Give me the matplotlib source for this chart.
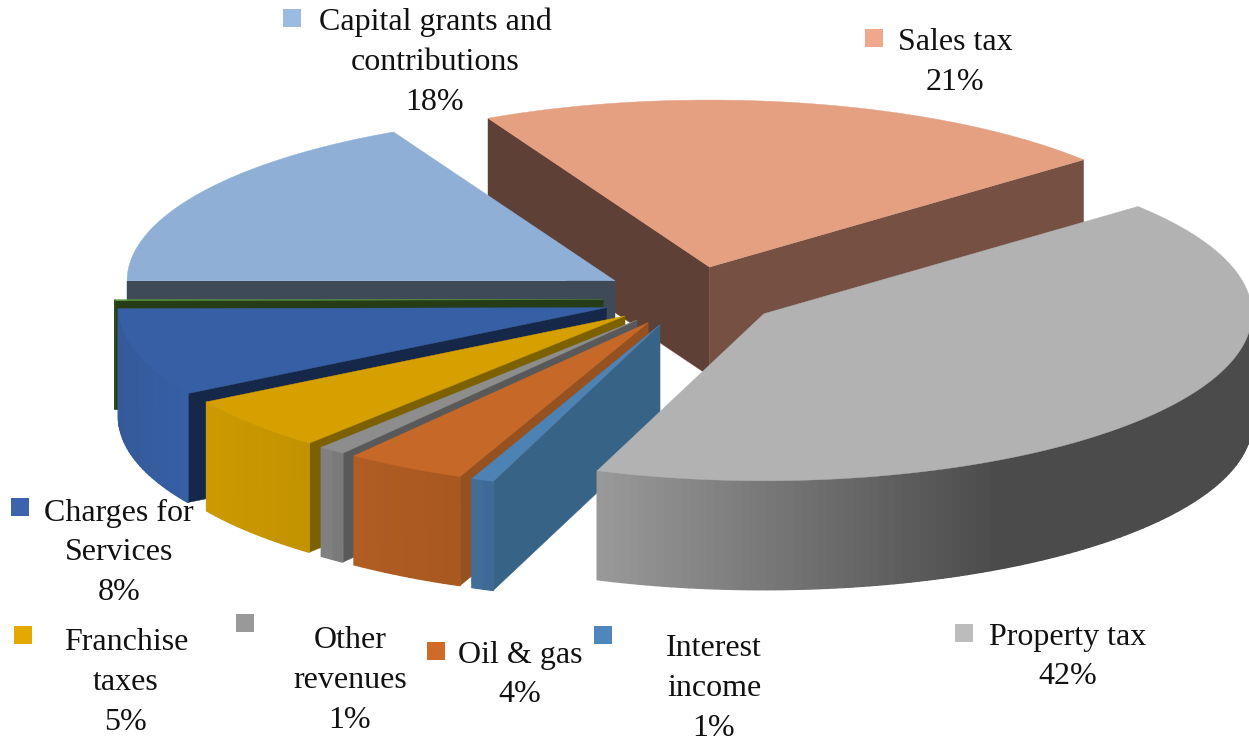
import numpy as np
from matplotlib import pyplot as plt
from matplotlib.patches import Polygon, Rectangle

# clockwise from the start angle, the last ones wrap round to the left side
NAMES = ['Sales tax', 'Property tax', 'Interest income', 'Oil & gas', 'Other revenues',
         'Franchise taxes', 'Charges for Services', '', 'Capital grants and contributions']
VALUES = [21.4, 41.65, 0.75, 4.0, 0.9, 5.2, 8.5, 0.1, 17.5]
PERCENT_LABELS = ['21%', '42%', '1%', '4%', '1%', '5%', '8%', '', '18%']

TOP_COLORS = ['#e5a082', '#b2b2b2', '#4d82b5', '#c66828', '#8d8d8d', '#d6a000', '#365fa5', '#5a9a3c', '#8fafd7']
KEY_COLORS = ['#f0a88c', '#bcbcbc', '#4f87bd', '#cf6a28', '#999999', '#e3a900', '#3b64ad', '#5a9a3c', '#9bbbe0']
START_WALL = ['#5f4036', '#000000', '#376386', '#955120', '#595959', '#7d6100', '#16284a', '#263c17', '#3e4a57']
END_WALL = ['#765143', '#000000', '#000000', '#000000', '#000000', '#000000', '#000000', '#000000', '#000000']
# rim shade at left / right of the pie, only the property slice really varies
RIM_LEFT = ['#765143', '#9a9a9a', '#436f9c', '#b25d24', '#858585', '#cc9a00', '#345a9a', '#2c4d1c', '#3e4a57']
RIM_RIGHT = ['#765143', '#4b4b4b', '#3f6a96', '#a85820', '#7a7a7a', '#c39200', '#365fa5', '#2c4d1c', '#3e4a57']
# small nudges on top of the explode, the original has some perspective
APEX_SHIFT = [(0, 0), (0, 0), (0, 0), (0, 0), (0, 0), (0, 0), (-1, 3), (-1, 3), (-2, 0)]

# label text lines, with centre x and first-line y, and the key square beside it
LABEL_LINES = {
    'Sales tax': ['Sales tax'],
    'Property tax': ['Property tax'],
    'Interest income': ['Interest', 'income'],
    'Oil & gas': ['Oil & gas'],
    'Other revenues': ['Other', 'revenues'],
    'Franchise taxes': ['Franchise', 'taxes'],
    'Charges for Services': ['Charges for', 'Services'],
    'Capital grants and contributions': ['Capital grants and', 'contributions'],
}
LABEL_POS = {
    'Sales tax': (955, 42), 'Property tax': (1068, 637), 'Interest income': (714, 649),
    'Oil & gas': (520, 655), 'Other revenues': (350, 641), 'Franchise taxes': (126, 643),
    'Charges for Services': (119, 513), 'Capital grants and contributions': (435, 22),
}
KEY_POS = {
    'Sales tax': (874, 38), 'Property tax': (964, 633), 'Interest income': (603, 635),
    'Oil & gas': (436, 651), 'Other revenues': (245, 623), 'Franchise taxes': (23, 635),
    'Charges for Services': (20, 507), 'Capital grants and contributions': (292, 18),
}

CENTER = (692.0, 296.5)
RX, RY = 488.0, 167.0
DEPTH = 109.0
EXPLODE = 0.18
START_ANGLE = 117.0
LINE_STEP = 40
FONT = ['Liberation Serif', 'DejaVu Serif']


def hex_rgb(color):
    return np.array([int(color[i:i + 2], 16) / 255 for i in (1, 3, 5)])


def slice_angles():
    edges = START_ANGLE - np.cumsum([0] + VALUES) * 360 / sum(VALUES)
    return edges[:-1], edges[1:]


def wall(ax, apex, angle, color, z):
    x, y = apex[0] + RX * np.cos(angle), apex[1] - RY * np.sin(angle)
    pts = [apex, (x, y), (x, y + DEPTH), (apex[0], apex[1] + DEPTH)]
    ax.add_patch(Polygon(pts, fc=color, ec=color, lw=0.3, zorder=z))


def rim(ax, apex, a1, a2, left, right, z):
    angles = np.linspace(a1, a2, max(3, int(abs(a2 - a1) * 180 / np.pi)))
    xs = apex[0] + RX * np.cos(angles)
    ys = apex[1] - RY * np.sin(angles)
    for i in range(len(angles) - 1):
        if np.sin((angles[i] + angles[i + 1]) / 2) > 0:
            continue
        # gradient runs over the page width, flat beyond x = 1000
        t = np.clip((xs[i] - 597) / 403, 0, 1) if left == RIM_LEFT[1] else (xs[i] - xs.min()) / max(1, np.ptp(xs))
        color = (1 - t) * hex_rgb(left) + t * hex_rgb(right)
        pts = [(xs[i], ys[i]), (xs[i + 1], ys[i + 1]),
               (xs[i + 1], ys[i + 1] + DEPTH), (xs[i], ys[i] + DEPTH)]
        ax.add_patch(Polygon(pts, fc=color, ec=color, lw=1.0, zorder=z))


def draw_slice(ax, i, a1, a2, z):
    mid = (a1 + a2) / 2
    apex = (CENTER[0] + EXPLODE * RX * np.cos(mid) + APEX_SHIFT[i][0],
            CENTER[1] - EXPLODE * RY * np.sin(mid) + APEX_SHIFT[i][1])
    # walls facing the viewer only
    if np.cos(a1) < 0:
        wall(ax, apex, a1, START_WALL[i], z)
    if np.cos(a2) > 0:
        wall(ax, apex, a2, END_WALL[i], z)
    rim(ax, apex, a1, a2, RIM_LEFT[i], RIM_RIGHT[i], z + 0.1)
    angles = np.linspace(a1, a2, 120)
    top = [apex] + list(zip(apex[0] + RX * np.cos(angles), apex[1] - RY * np.sin(angles)))
    ax.add_patch(Polygon(top, fc=TOP_COLORS[i], ec=TOP_COLORS[i], lw=0.3, zorder=z + 0.2))


def main():
    fig = plt.figure(figsize=(12.49, 7.42), dpi=100)
    ax = fig.add_axes([0, 0, 1, 1])
    ax.set_xlim(0, 1249)
    ax.set_ylim(742, 0)
    ax.axis('off')

    starts, ends = slice_angles()
    # painter's order, back to front
    order = [0, 8, 7, 6, 5, 4, 3, 2, 1]
    for z, i in enumerate(order):
        draw_slice(ax, i, np.radians(starts[i]), np.radians(ends[i]), z + 1)

    for i, name in enumerate(NAMES):
        if not name:
            continue
        x, y = LABEL_POS[name]
        lines = LABEL_LINES[name] + [PERCENT_LABELS[i]]
        for j, line in enumerate(lines):
            ax.text(x, y + j * LINE_STEP, line, ha='center', va='center', fontsize=23,
                    family=FONT, color='#111111', zorder=20)
        kx, ky = KEY_POS[name]
        ax.add_patch(Rectangle((kx - 9, ky - 9), 18, 18, fc=KEY_COLORS[i], ec='none', zorder=20))

    fig.savefig('out.png', dpi=100)


if __name__ == "__main__":
    main()
